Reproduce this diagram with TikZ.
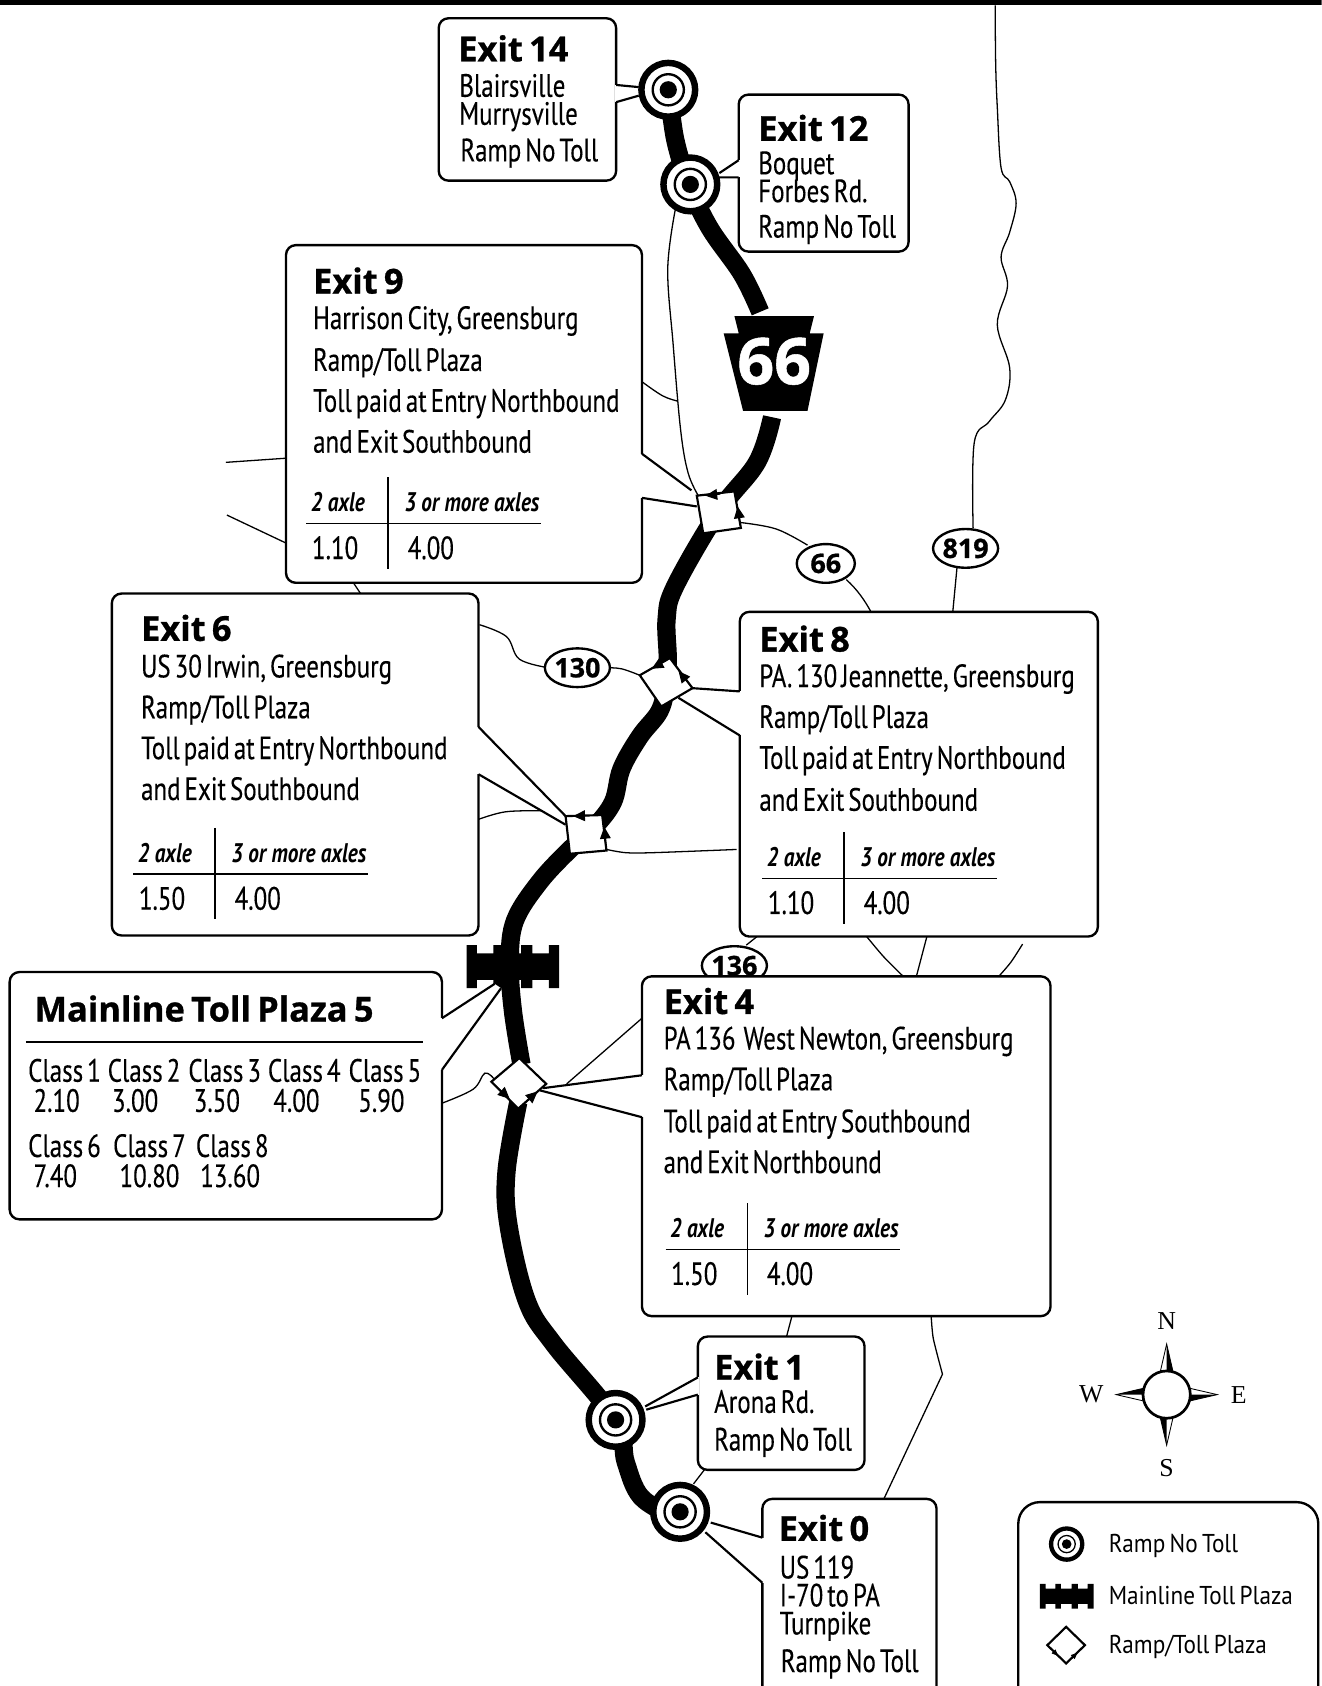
\documentclass[tikz,border=0pt]{standalone}
\usepackage{fontspec}
\setmainfont{PT Sans}
\newfontfamily\bodyfont[FakeStretch=0.775,WordSpace=0.6,FakeBold=0.2]{PT Sans}
\newfontfamily\headerfont[FakeStretch=0.79]{PT Sans}
\newfontfamily\titlefont[FakeBold=0.8,WordSpace=0.7]{Open Sans}
\newfontfamily\legendfont[FakeStretch=0.9,WordSpace=0.7]{PT Sans}
\newfontfamily\compassfont{Liberation Serif}
\usetikzlibrary{arrows.meta}
\usetikzlibrary{shapes.geometric}

\newcommand{\tollgate}{
	(0,0) -- (.11,0) -- (.11,.19) -- (.29,.19) -- (.29,0) -- (.39,0) -- (.39,.19) -- (.59,.19) -- (.59,0) -- (.71,0) -- (.71,.19) -- (.89,.19) -- (.89,0) -- (1,0) --
	(1,1) -- (.89,1) -- (.89,.81) -- (.71,.81) -- (.71,1) -- (.59,1) -- (.59,.81) -- (.39,.81) -- (.39,1) -- (.29,1) -- (.29,.81) -- (.11,.81) -- (.11,1) -- (0,1) -- cycle}

\begin{document}
\begin{tikzpicture}[x=1pt,y=-1pt]

\tikzstyle{box}=[draw=black, fill=white, line width=2.2pt, rounded corners=9pt, anchor=north west, inner sep=0pt, outer sep=0pt]
\tikzstyle{txt}=[anchor=west, inner sep=0pt, text height=26pt, text depth=6pt, font=\bodyfont\fontsize{30}{30}\selectfont]
\tikzstyle{ttl}=[anchor=west, inner sep=0pt, text height=28pt, text depth=6pt, font=\titlefont\bfseries\fontsize{32}{32}\selectfont]
\tikzstyle{hdr}=[anchor=west, inner sep=0pt, text height=26pt, text depth=6pt, font=\headerfont\bfseries\itshape\fontsize{25}{25}\selectfont]
\tikzstyle{leg}=[anchor=west, inner sep=0pt, text height=22pt, text depth=6pt, font=\legendfont\fontsize{24}{24}\selectfont]
\tikzstyle{cmp}=[inner sep=0pt, font=\compassfont\fontsize{24}{24}\selectfont]
\tikzstyle{shield}=[draw=black, fill=white, ellipse, line width=2.2pt, minimum width=54pt, minimum height=36pt, inner sep=0pt, font=\titlefont\bfseries\fontsize{25}{25}\selectfont]
\tikzstyle{minor}=[line width=1.2pt]
\tikzstyle{road}=[line width=17pt]
\tikzstyle{edge}=[line width=2pt]
\tikzstyle{rule}=[line width=1.5pt]
\tikzstyle{plaza}=[draw=black, fill=white, line width=2pt]
\tikzstyle{dir}=[-{Triangle[length=11pt,width=10pt]}, line width=1pt]
\tikzstyle{rampmark}=[draw=black, fill=white, circle, line width=6pt, minimum size=50pt, inner sep=0pt]

\path[use as bounding box, clip] (0,0) rectangle (1229,1568);
\fill[black] (0,0) rectangle (1229,5);

% thin roads
\draw[minor] plot[smooth, tension=.6] coordinates {(925.5,5) (926,60) (927.5,100) (931,156) (939,169) (945,189) (939,216) (931,239) (937,266) (927.5,302) (939,342) (935,372) (920,392) (906,412) (905,491)};
\draw[minor] (890,528) -- (886,570);
\draw[minor] plot[smooth, tension=.6] coordinates {(628,195) (621,250) (626,320) (633,400) (640,440) (650,462)};
\draw[minor] plot[smooth, tension=.6] coordinates {(597,355) (616,368) (630,373)};
\draw[minor] (210,430) -- (268,426);
\draw[minor] (211,479) -- (268,506);
\draw[minor] (328,541) -- (336,553);
\draw[minor] plot[smooth, tension=.6] coordinates {(689,486) (722,492) (751,507)};
\draw[minor] (787,539) .. controls (797,548) and (804,558) .. (810,569);
\draw[minor] plot[smooth, tension=.6] coordinates {(446,581) (471,592) (483,613) (510,621)};
\draw[minor] plot[smooth, tension=.6] coordinates {(564,621) (578,622) (595,628)};
\draw[minor] plot[smooth, tension=.6] coordinates {(445,762) (470,755) (503,754)};
\draw[minor] plot[smooth, tension=.5] coordinates {(564,790) (582,793) (607,793) (685,790)};
\draw[minor] (694,879) -- (704,871);
\draw[minor] plot[smooth, tension=.5] coordinates {(806,871) (822,890) (840,908)};
\draw[minor] (862,871) -- (852,909);
\draw[minor] plot[smooth, tension=.5] coordinates {(951,878) (940,895) (928,909)};
\draw[minor] plot[smooth, tension=.6] coordinates {(411,1026) (440,1013) (451,998) (460,1004)};
\draw[minor] (597,947) -- (527,1008);
\draw[minor] (736.5,1224) -- (731.5,1243);
\draw[minor] (655,1367) -- (645,1380);
\draw[minor] plot[smooth, tension=.4] coordinates {(866,1224) (868,1245) (876.5,1278)} -- (822,1394);

% turnpike
\draw[road] plot[smooth, tension=.6] coordinates {(622,85) (628,130) (641,172) (660,212) (690,255) (707,290)};
\draw[road] plot[smooth, tension=.6] coordinates {(718,388) (704,430) (668,476) (628,545) (620,575) (621,613) (619,640) (613,662) (595,685) (578,715) (570,746) (552,770) (530,790) (502,820) (479,856) (474,894) (477,940) (485,990)};
\draw[road] plot[smooth, tension=.6] coordinates {(482,1025) (471,1090) (473,1140) (490,1210) (515,1250) (572,1320) (582,1360) (596,1392) (625,1410)};

% mainline plaza
\fill[black, shift={(434,879)}, xscale=86, yscale=40] \tollgate;

% boxes
\node[box, minimum width=165pt, minimum height=151pt] (exit14) at (408,17) {};
\node[box, minimum width=158pt, minimum height=146pt] (exit12) at (687,88) {};
\node[box, minimum width=331pt, minimum height=314pt] (exit9) at (266,228) {};
\node[box, minimum width=341pt, minimum height=318pt] (exit6) at (104,552) {};
\node[box, minimum width=333pt, minimum height=302pt] (exit8) at (688,569) {};
\node[shield] (sign136) at (683,898) {136};
\node[box, minimum width=380pt, minimum height=316pt] (exit4) at (597,908) {};
\node[box, minimum width=402pt, minimum height=230pt] (mainline) at (9,904) {};
\node[box, minimum width=155pt, minimum height=124pt] (exit1) at (649,1243) {};
\node[box, minimum width=162pt, minimum height=200pt] (exit0) at (709,1394) {};
\node[box, rounded corners=20pt, minimum width=279pt, minimum height=200pt] (legendbox) at (947,1397) {};

% callout pointers
\foreach \ax/\ay/\tx/\ty/\ux/\uy/\bx/\by in {
	573/79/594/81/594/89/573/95,
	687/149/669/161/667/165/687/165,
	597/422/643/456/648/471/597/463,
	445/676/526/759/526/767/445/720,
	688/643/644/640/631/649/688/684,
	411/947/460/915/466/919/411/995,
	597/1000/505/1012/502/1014/597/1039,
	649/1281/600/1308/601/1311/649/1297,
	709/1430/661/1416/656/1425/709/1472} {
	\fill[white] (\ax,\ay) -- (\tx,\ty) -- (\ux,\uy) -- (\bx,\by) -- cycle;
	\draw[white, line width=3pt] (\ax,\ay) -- (\bx,\by);
	\draw[edge, line join=round] (\ax,\ay) -- (\tx,\ty) (\ux,\uy) -- (\bx,\by);
}

% ramp no toll markers
\foreach \name/\x/\y in {mark14/621.5/83.5, mark12/642/171.5, mark1/572.5/1320.5, mark0/632.5/1406} {
	\node[rampmark] (\name) at (\x,\y) {};
	\draw[line width=2.2pt] (\name) circle (14.5);
	\fill[black] (\name) circle (8);
}

% ramp/toll plazas
\draw[plaza] (648,461) -- (683,457) -- (689,491) -- (654,496) -- cycle;
\draw[plaza] (595,628) -- (623,612) -- (644,640) -- (615,657) -- cycle;
\draw[plaza] (526,759) -- (560,758) -- (564,791) -- (530,794) -- cycle;
\draw[plaza] (457,1006) -- (483,984) -- (508,1008) -- (482,1031) -- cycle;
\draw[dir] (670,459.5) -- (656,461);
\draw[dir] (689,491) -- (686,471);
\draw[dir] (620,614) -- (606,622);
\draw[dir] (644,640) -- (631,624);
\draw[dir] (548,758.5) -- (533,759);
\draw[dir] (564,791) -- (562,769);
\draw[dir] (460,1009) -- (474,1022);
\draw[dir] (482,1031) -- (500,1015);

% keystone
\fill[black] (683,294) -- (687,310) -- (673,310) -- (691,382) -- (751,382) -- (766,310) -- (753,310) -- (757,294) -- cycle;
\node[inner sep=0pt, text=white, font=\titlefont\bfseries\fontsize{60}{60}\selectfont] (key66) at (720,336) {66};

% road signs
\node[shield] (sign66) at (768,524) {66};
\node[shield] (sign819) at (898,510) {819};
\node[shield] (sign130) at (537,621) {130};

% exit texts
\node[ttl] (title14) at (426,46) {Exit 14};
\node[txt] at (427,80) {Blairsville};
\node[txt] at (427,106) {Murrysville};
\node[txt] at (428,140) {Ramp No Toll};
\node[ttl] (title12) at (705,120) {Exit 12};
\node[txt] at (705,152) {Boquet};
\node[txt] at (705,178) {Forbes Rd.};
\node[txt] at (705,211) {Ramp No Toll};
\node[ttl] (title9) at (291,262) {Exit 9};
\node[txt] at (291,296) {Harrison City, Greensburg};
\node[txt] at (291,335) {Ramp/Toll Plaza};
\node[txt] at (291,373) {Toll paid at Entry Northbound};
\node[txt] at (291,411) {and Exit Southbound};
\node[ttl] (title6) at (131,585) {Exit 6};
\node[txt] at (131,620) {US 30 Irwin, Greensburg};
\node[txt] at (131,658) {Ramp/Toll Plaza};
\node[txt] at (131,696) {Toll paid at Entry Northbound};
\node[txt] at (131,734) {and Exit Southbound};
\node[ttl] (title8) at (706,595) {Exit 8};
\node[txt] at (706,629) {PA. 130 Jeannette, Greensburg};
\node[txt] at (706,667) {Ramp/Toll Plaza};
\node[txt] at (706,705) {Toll paid at Entry Northbound};
\node[txt] at (706,744) {and Exit Southbound};
\node[ttl] (title4) at (617,932) {Exit 4};
\node[txt] at (617,966) {PA 136~ West Newton, Greensburg};
\node[txt] at (617,1004) {Ramp/Toll Plaza};
\node[txt] at (617,1043) {Toll paid at Entry Southbound};
\node[txt] at (617,1081) {and Exit Northbound};
\node[ttl] (title1) at (664,1272) {Exit 1};
\node[txt] at (664,1304) {Arona Rd.};
\node[txt] at (664,1339) {Ramp No Toll};
\node[ttl] (title0) at (724,1422) {Exit 0};
\node[txt] at (725,1458) {US 119};
\node[txt] at (725,1484) {I-70 to PA};
\node[txt] at (725,1510) {Turnpike};
\node[txt] at (726,1545) {Ramp No Toll};

% toll tables
\foreach \vx/\hy/\low/\high in {361/487/1.10/4.00, 200/813/1.50/4.00, 785/817/1.10/4.00, 695/1162/1.50/4.00} {
	\draw[rule] (\vx-76,\hy) -- (\vx+142,\hy);
	\draw[rule] (\vx,\hy-43) -- (\vx,\hy+42);
	\node[hdr] at (\vx-72,\hy-21) {2 axle};
	\node[hdr] at (\vx+15,\hy-21) {3 or more axles};
	\node[txt] at (\vx-71,\hy+23) {\low};
	\node[txt] at (\vx+18,\hy+23) {\high};
}

% mainline table
\node[ttl] (titlemain) at (32,939) {Mainline Toll Plaza 5};
\draw[rule] (24,969) -- (393,969);
\foreach \x/\n/\vx/\v in {26/1/31/2.10, 100/2/104/3.00, 175/3/180/3.50, 249/4/254/4.00, 324/5/333/5.90} {
	\node[txt] at (\x,996) {Class \n};
	\node[txt] at (\vx,1024) {\v};
}
\foreach \x/\n/\vx/\v in {26/6/31/7.40, 105/7/111/10.80, 182/8/186/13.60} {
	\node[txt] at (\x,1066) {Class \n};
	\node[txt] at (\vx,1094) {\v};
}

% compass
\foreach \ang in {0,90,180,270} {
	\draw[fill=white, line width=.8pt, rotate around={\ang:(1085,1297)}] (1085,1250) -- (1091,1276) -- (1079,1276) -- cycle;
	\fill[black, rotate around={\ang:(1085,1297)}] (1085,1250) -- (1091,1276) -- (1085,1276) -- cycle;
}
\node[draw=black, fill=white, circle, line width=2.5pt, minimum size=44pt, inner sep=0pt] (rose) at (1085,1297) {};
\node[cmp] at (1085,1229) {N};
\node[cmp] at (1085,1365) {S};
\node[cmp] at (1015,1297) {W};
\node[cmp] at (1152,1297) {E};

% legend
\node[draw=black, fill=white, circle, line width=4pt, minimum size=29pt, inner sep=0pt] (legendmark) at (992,1436) {};
\draw[line width=1.2pt] (legendmark) circle (8);
\fill[black] (legendmark) circle (4.5);
\fill[black, shift={(967,1473)}, xscale=50, yscale=23] \tollgate;
\draw[plaza] (974,1530) -- (991.5,1513) -- (1009,1530) -- (991.5,1547) -- cycle;
\draw[-{Triangle[length=6pt,width=5pt]}, line width=.6pt] (975,1531) -- (984,1540);
\draw[-{Triangle[length=6pt,width=5pt]}, line width=.6pt] (991.5,1547) -- (1002,1537);
\node[leg] at (1031,1436) {Ramp No Toll};
\node[leg] at (1031,1484) {Mainline Toll Plaza};
\node[leg] at (1031,1530) {Ramp/Toll Plaza};
\end{tikzpicture}
\end{document}
